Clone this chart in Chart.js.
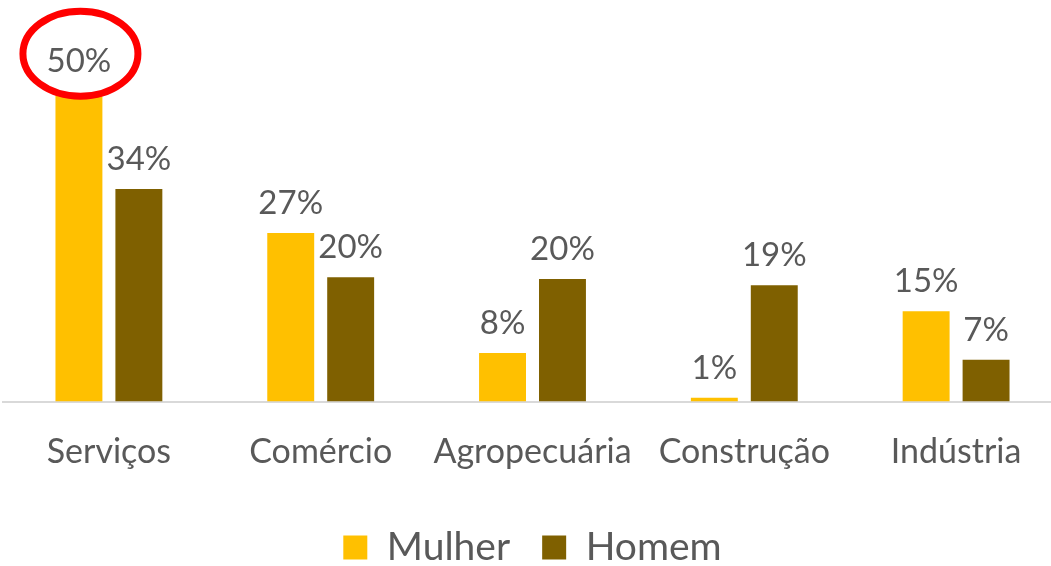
<!DOCTYPE html>
<html>
<head>
<meta charset="utf-8">
<script src="https://cdn.jsdelivr.net/npm/chart.js@4"></script>
<style>
  html, body { margin: 0; padding: 0; background: #fff; overflow: hidden; }
  #wrap { position: relative; width: 1062px; height: 566px; }
</style>
</head>
<body>
<div id="wrap"><canvas id="graph"></canvas></div>
<script>
const categories = ['Serviços', 'Comércio', 'Agropecuária', 'Construção', 'Indústria']
const mulher = [50, 27.1, 7.8, 0.6, 14.5]
const homem = [34.2, 20, 19.7, 18.7, 6.7]
const mulherLabels = ['50%', '27%', '8%', '1%', '15%']
const homemLabels = ['34%', '20%', '20%', '19%', '7%']

const FONT = 'Lato, "Open Sans", sans-serif'
const GREY = '#595959'

const labelPlugin = {
  id: 'barLabels',
  afterDatasetsDraw: (chart) => {
    const { ctx } = chart

    // red ellipse round the first bar label
    const first = chart.getDatasetMeta(0).data[0]
    ctx.save()
    ctx.beginPath()
    ctx.ellipse(first.x + 1.5, first.y - 37, 57.5, 42.5, 0, 0, Math.PI * 2)
    ctx.fillStyle = '#ffffff'
    ctx.fill()
    ctx.lineWidth = 7
    ctx.strokeStyle = '#ff0000'
    ctx.stroke()
    ctx.restore()

    const texts = [mulherLabels, homemLabels]
    ctx.save()
    ctx.font = '33px ' + FONT
    ctx.fillStyle = GREY
    ctx.textAlign = 'center'
    ctx.textBaseline = 'alphabetic'
    chart.data.datasets.forEach((ds, i) => {
      chart.getDatasetMeta(i).data.forEach((bar, j) => {
        ctx.fillText(texts[i][j], bar.x, bar.y - 19)
      })
    })
    ctx.restore()
  }
}

new Chart('graph', {
  type: 'bar',
  data: {
    labels: categories,
    datasets: [{
      label: 'Mulher',
      data: mulher,
      backgroundColor: '#FFC000',
      categoryPercentage: 0.566,
      barPercentage: 0.783
    }, {
      label: 'Homem',
      data: homem,
      backgroundColor: '#7F6000',
      categoryPercentage: 0.566,
      barPercentage: 0.783
    }]
  },
  options: {
    responsive: true,
    maintainAspectRatio: false,
    animation: false,
    layout: { padding: { left: 3, right: 0, top: 28.5, bottom: -11 } },
    scales: {
      x: {
        grid: { display: false, drawTicks: false },
        border: { color: '#D9D9D9', width: 2 },
        ticks: { color: GREY, font: { family: FONT, size: 34 }, padding: 30 },
        afterFit: (scale) => { scale.height = 94.5 }
      },
      y: {
        display: false,
        min: 0,
        max: 60
      }
    },
    plugins: {
      legend: {
        position: 'bottom',
        labels: {
          color: GREY,
          font: { family: FONT, size: 39 },
          boxWidth: 24,
          boxHeight: 24,
          padding: 32
        }
      },
      tooltip: { enabled: false }
    }
  },
  plugins: [labelPlugin]
})
</script>
</body>
</html>
